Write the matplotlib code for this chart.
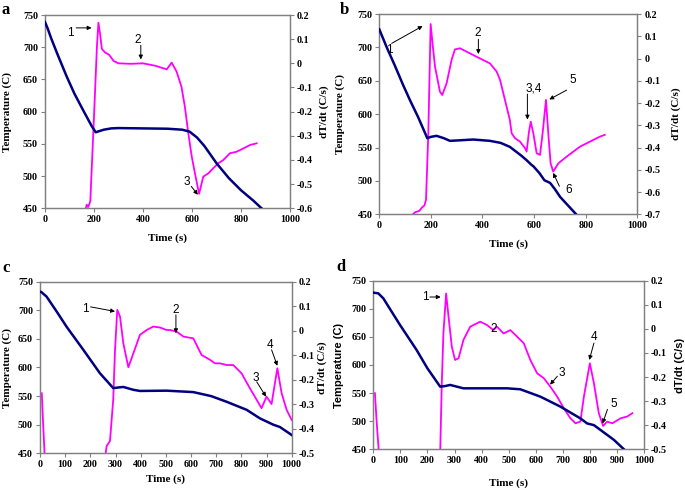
import numpy as np
import matplotlib
matplotlib.use("Agg")
import matplotlib.pyplot as plt

plt.rcParams['axes.unicode_minus'] = False

NAVY = '#000080'
MAG = '#FF00FF'
GRAY = '#808080'
SERIF = 'Liberation Serif'
SANS = 'Liberation Sans'

# ---------------- data ----------------
# panel a
a_T_time = [0, 10, 25, 50, 88, 120, 156, 190, 207, 215, 240, 270, 300, 400, 500, 560, 590, 620, 650, 700, 750, 800, 850, 884]
a_T = [739, 730, 714, 690, 655, 628, 602, 578, 568, 569, 572, 574, 574.5, 574, 573.5, 572, 569, 560, 547, 520, 497, 478, 462, 450]
a_d_time = [163, 170, 176, 180, 185, 200, 212, 218, 225, 232, 245, 262, 280, 300, 350, 400, 450, 497, 517, 537, 557, 571, 585, 599, 612, 629, 646, 667, 687, 707, 728, 755, 782, 810, 837, 864]
a_d = [-0.62, -0.585, -0.595, -0.585, -0.57, -0.22, 0.07, 0.168, 0.12, 0.06, 0.045, 0.035, 0.01, 0.0, -0.002, 0.0, -0.01, -0.025, 0.003, -0.034, -0.097, -0.18, -0.29, -0.386, -0.455, -0.54, -0.469, -0.455, -0.434, -0.414, -0.40, -0.372, -0.366, -0.352, -0.338, -0.331]

# panel b
b_T_time = [0, 30, 60, 93, 120, 150, 186, 200, 222, 250, 274, 320, 364, 429, 470, 506, 550, 571, 590, 597, 620, 640, 662, 680, 701, 763]
b_T = [727, 699, 673, 643, 620, 596, 564, 566, 567.5, 564, 560, 561, 562, 560, 557, 551, 538, 531, 524, 522, 512, 501, 497, 488, 476, 450]
b_d_time = [125, 140, 155, 165, 175, 181, 190, 199, 207, 216, 235, 244, 261, 280, 293, 313, 338, 377, 403, 429, 455, 468, 487, 506, 513, 526, 545, 565, 571, 580, 587, 597, 610, 623, 633, 646, 655, 664, 674, 694, 726, 778, 829, 855, 874]
b_d = [-0.705, -0.69, -0.685, -0.67, -0.66, -0.635, -0.336, 0.155, 0.06, -0.037, -0.149, -0.164, -0.111, -0.007, 0.041, 0.046, 0.031, 0.008, -0.007, -0.022, -0.059, -0.096, -0.186, -0.276, -0.336, -0.358, -0.373, -0.403, -0.418, -0.33, -0.284, -0.336, -0.426, -0.433, -0.336, -0.186, -0.336, -0.471, -0.508, -0.471, -0.441, -0.396, -0.366, -0.351, -0.343]

# panel c
c_T_time = [0, 5, 26, 66, 106, 172, 238, 291, 310, 331, 371, 397, 503, 609, 680, 742, 821, 874, 927, 953, 1000]
c_T = [732.5, 732, 724, 698, 671, 631, 590, 564, 565, 566, 561, 559, 559.5, 557, 550, 540, 526, 511, 500, 496, 482]
c_d_time = [7, 12, 19, np.nan, 258, 265, 278, 291, 298, 307, 318, 331, 351, 371, 397, 424, 450, 477, 503, 517, 543, 570, 609, 642, 676, 695, 715, 742, 768, 801, 834, 861, 880, 900, 920, 943, 960, 980, 1000]
c_d = [-0.255, -0.37, -0.52, np.nan, -0.52, -0.47, -0.45, -0.28, -0.079, 0.085, 0.057, -0.051, -0.149, -0.092, -0.017, 0.003, 0.017, 0.013, 0.003, 0.003, -0.004, -0.024, -0.031, -0.099, -0.119, -0.133, -0.133, -0.14, -0.14, -0.174, -0.235, -0.282, -0.316, -0.269, -0.299, -0.153, -0.255, -0.323, -0.364]

# panel d
d_T_time = [0, 18.5, 37, 99, 160, 200, 247, 265, 284, 333, 395, 494, 543, 617, 691, 765, 790, 815, 839, 889, 926]
d_T = [728.7, 727.5, 718.6, 671, 626.7, 594, 561.5, 562.5, 564.5, 558.5, 558.5, 558.5, 556.8, 543.7, 526, 505, 496, 493, 484.5, 466.7, 450]
d_d_time = [6, 12, 21, np.nan, 247, 253, 259, 269, 278, 290, 302, 315, 333, 358, 395, 420, 444, 457, 481, 494, 506, 531, 556, 580, 605, 630, 654, 679, 704, 728, 747, 765, 778, 800, 815, 833, 849, 864, 883, 914, 938, 957]
d_d = [-0.267, -0.38, -0.52, np.nan, -0.52, -0.226, -0.019, 0.147, 0.05, -0.074, -0.129, -0.122, -0.046, 0.009, 0.03, 0.016, -0.005, 0.009, -0.019, -0.012, -0.005, -0.032, -0.06, -0.129, -0.184, -0.205, -0.24, -0.281, -0.33, -0.371, -0.392, -0.385, -0.281, -0.143, -0.226, -0.35, -0.403, -0.385, -0.392, -0.371, -0.364, -0.35]

left_ticks = [450, 500, 550, 600, 650, 700, 750]
x_ticks_ab = [0, 200, 400, 600, 800, 1000]
x_ticks_cd = [0, 100, 200, 300, 400, 500, 600, 700, 800, 900, 1000]
r_ticks_a = [-0.6, -0.5, -0.4, -0.3, -0.2, -0.1, 0, 0.1, 0.2]
r_ticks_b = [-0.7, -0.6, -0.5, -0.4, -0.3, -0.2, -0.1, 0, 0.1, 0.2]
r_ticks_cd = [-0.5, -0.4, -0.3, -0.2, -0.1, 0, 0.1, 0.2]

# annotations: (text, text_xy, tail, head) in (time, temperature) coords
ann_a = [("1", (102, 722), (127, 730), (190, 730)),
         ("2", (380, 711), (391, 703), (391, 681)),
         ("3", (578, 491), (597, 484), (624, 471))]
ann_b = [("1", (39, 696), (48, 706), (168, 732)),
         ("2", (381, 721), (384, 712), (384, 690)),
         ("3,4", (597, 639), (574, 630), (574, 592)),
         ("5", (750, 651), (726, 636), (659, 622)),
         ("6", (733, 487), (698, 492), (674, 512))]
ann_c = [("1", (179, 702), (201, 706), (298, 698)),
         ("2", (540, 700), (540, 692), (540, 660)),
         ("3", (858, 582), (861, 575), (898, 549)),
         ("4", (914, 639), (920, 631), (943, 603))]
ann_d = [("1", (191, 721), (209, 721), (249, 721)),
         ("2", (446, 664), None, None),
         ("3", (696, 585), (680, 580), (653, 565)),
         ("4", (816, 649), (815, 639), (798, 609)),
         ("5", (887, 531), (865, 521), (847, 496))]

# ---------------- figure ----------------
fig = plt.figure(figsize=(6.85, 4.9), dpi=100)


def fmt(v):
    if abs(v) < 1e-9:
        return "0"
    return ("%.1f" % v)


def panel(rect, letter, letter_xy, Tt, T, dt, d, rticks, xticks, ann,
          ylab_x, rlab_x, xlab_y, ylab_sans=False, rlab_sans=False):
    ax = fig.add_axes(rect)
    ax2 = ax.twinx()
    ax.plot(Tt, T, color=NAVY, lw=1.8, zorder=3)
    ax2.plot(dt, d, color=MAG, lw=1.3, zorder=2)
    ax.set_zorder(ax2.get_zorder() + 1)
    ax.patch.set_visible(False)
    ax.set_xlim(0, 1000)
    ax.set_ylim(450, 750)
    ax2.set_ylim(rticks[0], rticks[-1])
    ax.set_xticks(xticks)
    ax.set_xticklabels([str(x) for x in xticks])
    ax.set_yticks(left_ticks)
    ax.set_yticklabels([str(y) for y in left_ticks])
    ax2.set_yticks(rticks)
    ax2.set_yticklabels([fmt(v) for v in rticks])
    for a_ in (ax, ax2):
        for s in a_.spines.values():
            s.set_color(GRAY)
            s.set_linewidth(0.9)
        a_.tick_params(length=3, width=0.8, color=GRAY, pad=2, labelsize=7.2)
        for lab in a_.get_xticklabels() + a_.get_yticklabels():
            lab.set_fontfamily(SERIF)
            lab.set_fontweight('bold')
    ax.set_ylabel("Temperature (C)", fontsize=8, fontweight='bold',
                  fontfamily=SANS if ylab_sans else SERIF)
    ax.yaxis.set_label_coords(ylab_x, 0.5)
    ax2.set_ylabel("dT/dt (C/s)", fontsize=8, fontweight='bold',
                   fontfamily=SANS if rlab_sans else SERIF)
    ax2.yaxis.set_label_coords(rlab_x, 0.5)
    ax.set_xlabel("Time (s)", fontsize=8, fontweight='bold', fontfamily=SERIF)
    ax.xaxis.set_label_coords(0.5, xlab_y)
    for txt, txy, tail, head in ann:
        ax.text(txy[0], txy[1], txt, fontsize=8.5, fontfamily=SANS,
                ha='center', va='center', zorder=6)
        if tail is not None:
            ax.annotate("", xy=head, xytext=tail,
                        arrowprops=dict(arrowstyle='-|>', color='black', lw=0.7,
                                        mutation_scale=6, shrinkA=0, shrinkB=0),
                        zorder=6)
    fig.text(letter_xy[0] / 685, 1 - letter_xy[1] / 490, letter, fontsize=12,
             fontweight='bold', fontfamily=SERIF, ha='left', va='center')
    return ax


panel([45 / 685, 1 - 208.3 / 490, 245 / 685, 193.3 / 490], "a", (2, 10),
      a_T_time, a_T, a_d_time, a_d, r_ticks_a, x_ticks_ab, ann_a,
      -0.135, 1.118, -0.128)
panel([379.3 / 685, 1 - 214.3 / 490, 258 / 685, 200.3 / 490], "b", (340, 10),
      b_T_time, b_T, b_d_time, b_d, r_ticks_b, x_ticks_ab, ann_b,
      -0.133, 1.134, -0.123)
panel([40 / 685, 1 - 453.3 / 490, 251.7 / 685, 171.6 / 490], "c", (2, 268),
      c_T_time, c_T, c_d_time, c_d, r_ticks_cd, x_ticks_cd, ann_c,
      -0.111, 1.104, -0.121)
panel([373.3 / 685, 1 - 449.3 / 490, 270.7 / 685, 168.6 / 490], "d", (336, 267),
      d_T_time, d_T, d_d_time, d_d, r_ticks_cd, x_ticks_cd, ann_d,
      -0.108, 1.114, -0.17, ylab_sans=True, rlab_sans=True)

fig.savefig("out.png", dpi=100)
